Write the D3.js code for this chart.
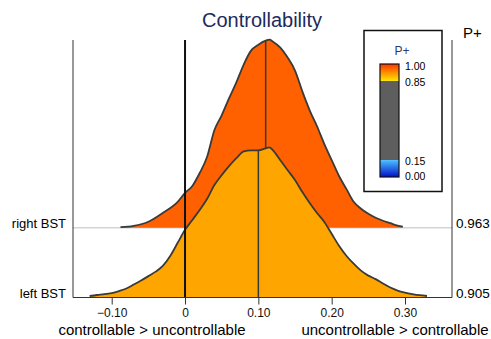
<!DOCTYPE html>
<html>
<head>
<meta charset="utf-8">
<script src="https://cdn.jsdelivr.net/npm/d3@7"></script>
<style>
  html, body { margin: 0; padding: 0; background: #fff; }
  svg { display: block; font-family: "Liberation Sans", Arial, sans-serif; }
</style>
</head>
<body>
<div id="chart"></div>
<script>
// ===== data =====
const rows = ['left BST', 'right BST'];
const pPlus = [0.905, 0.963];
const medians = [0.10, 0.11];

const gridLeft = [-0.13, -0.12, -0.11, -0.10, -0.09, -0.08, -0.07, -0.06, -0.05, -0.04, -0.03, -0.02, -0.01,
  0.00, 0.01, 0.02, 0.03, 0.04, 0.05, 0.06, 0.07, 0.08, 0.09, 0.10, 0.11, 0.115, 0.12, 0.13, 0.14, 0.15,
  0.16, 0.17, 0.18, 0.19, 0.20, 0.21, 0.22, 0.23, 0.24, 0.25, 0.26, 0.27, 0.28, 0.29, 0.30, 0.31, 0.32, 0.33];
const densLeft = [1.5, 2.5, 3.3, 4.5, 6.5, 9, 13, 17, 21.5, 26, 32, 42, 55,
  68, 78, 88, 99, 113, 123, 132, 140, 147, 148, 148, 150, 151, 148, 138, 128, 118,
  106, 95, 85, 76, 64, 52, 42, 34, 27, 22, 18.5, 14, 10, 7, 5, 3.5, 2.3, 1.5];

const gridRight = [-0.088, -0.07, -0.05, -0.03, -0.01, 0.00, 0.01, 0.02, 0.03, 0.04, 0.05, 0.06, 0.07, 0.08,
  0.09, 0.10, 0.11, 0.115, 0.12, 0.13, 0.14, 0.15, 0.16, 0.17, 0.18, 0.19, 0.20, 0.21, 0.22, 0.23,
  0.24, 0.25, 0.26, 0.27, 0.28, 0.29, 0.297];
const densRight = [0.5, 1.8, 6, 15, 26, 35, 42, 55, 71, 98, 113, 130, 146, 164,
  178, 184, 188, 189, 187, 181, 171, 158, 137, 118, 102, 84, 68, 52, 39, 26,
  19, 14, 10, 7, 4.5, 2, 1];

const xTicks = [-0.10, 0, 0.10, 0.20, 0.30];
const xTickLabels = ['\u22120.10', '0', '0.10', '0.20', '0.30'];
const legendTicks = [1.00, 0.85, 0.15, 0.00];
const legendTickLabels = ['1.00', '0.85', '0.15', '0.00'];

// ===== setup =====
const width = 491, height = 339;
const svg = d3.select('#chart').append('svg')
  .attr('width', width).attr('height', height);

const x = d3.scaleLinear().domain([-0.1, 0.3]).range([111.7, 405]);
const rowY = d3.scaleLinear().domain([0, 1]).range([297.5, 227.7]);
const h = d3.scaleLinear().domain([0, 190]).range([0, 189]);
const pColor = d3.scaleLinear().domain([0.85, 1]).range(['#ffe600', '#ff3400']);

const plotLeft = 73, plotRight = 452, plotTop = 40;

// title
svg.append('text')
  .attr('x', 262).attr('y', 27)
  .attr('text-anchor', 'middle')
  .attr('font-size', 20)
  .attr('fill', '#1c2a5c')
  .text('Controllability');

svg.append('text')
  .attr('x', 463).attr('y', 38)
  .attr('font-size', 15)
  .attr('fill', '#000')
  .text('P+');

// gray baseline for upper row
svg.append('line')
  .attr('x1', plotLeft).attr('x2', plotRight)
  .attr('y1', rowY(1)).attr('y2', rowY(1))
  .attr('stroke', '#d4d4d4').attr('stroke-width', 1.5);

// ===== ridges (upper row first, lower row on top) =====
const series = [
  { grid: gridRight, dens: densRight, row: 1 },
  { grid: gridLeft, dens: densLeft, row: 0 }
];

series.forEach(s => {
  const base = rowY(s.row);
  const pts = s.grid.map((g, i) => ({ v: g, d: s.dens[i] }));

  const area = d3.area()
    .x(d => x(d.v))
    .y0(base)
    .y1(d => base - h(d.d))
    .curve(d3.curveMonotoneX);

  const line = d3.line()
    .x(d => x(d.v))
    .y(d => base - h(d.d))
    .curve(d3.curveMonotoneX);

  svg.append('path')
    .datum(pts)
    .attr('d', area)
    .attr('fill', pColor(pPlus[s.row]));

  svg.append('path')
    .datum(pts)
    .attr('d', line)
    .attr('fill', 'none')
    .attr('stroke', '#3a3a3a')
    .attr('stroke-width', 1.8);

  // median line up to the curve
  const m = medians[s.row];
  const i = d3.bisectLeft(s.grid, m);
  const t = (m - s.grid[i - 1]) / (s.grid[i] - s.grid[i - 1]);
  const dm = s.dens[i - 1] + t * (s.dens[i] - s.dens[i - 1]);
  svg.append('line')
    .attr('x1', x(m)).attr('x2', x(m))
    .attr('y1', base).attr('y2', base - h(dm))
    .attr('stroke', '#3a3a3a').attr('stroke-width', 1.5);
});

// zero line
svg.append('line')
  .attr('x1', x(0)).attr('x2', x(0))
  .attr('y1', plotTop).attr('y2', rowY(0))
  .attr('stroke', '#111').attr('stroke-width', 2);

// ===== axes =====
[plotLeft, plotRight].forEach(px => {
  svg.append('line')
    .attr('x1', px).attr('x2', px)
    .attr('y1', plotTop).attr('y2', rowY(0))
    .attr('stroke', '#333').attr('stroke-width', 1);
});

const xAxis = svg.append('g')
  .attr('transform', `translate(0,${rowY(0)})`)
  .call(d3.axisBottom(x).tickValues(xTicks)
    .tickFormat((d, i) => xTickLabels[i]).tickSize(7).tickPadding(4));
xAxis.select('.domain').remove();
xAxis.append('line')
  .attr('x1', plotLeft).attr('x2', plotRight)
  .attr('stroke', '#333').attr('stroke-width', 1);
xAxis.selectAll('.tick line').attr('stroke', '#333');
xAxis.selectAll('.tick text')
  .attr('font-size', 12)
  .attr('font-family', '"Liberation Sans", Arial, sans-serif')
  .attr('fill', '#111');

svg.append('text')
  .attr('x', 152).attr('y', 334.5)
  .attr('text-anchor', 'middle')
  .attr('font-size', 15)
  .text('controllable > uncontrollable');

svg.append('text')
  .attr('x', 395).attr('y', 334.5)
  .attr('text-anchor', 'middle')
  .attr('font-size', 15)
  .text('uncontrollable > controllable');

// row labels and P+ values
rows.forEach((r, i) => {
  svg.append('text')
    .attr('x', 66).attr('y', rowY(i) + 0.5)
    .attr('text-anchor', 'end')
    .attr('font-size', 13)
    .text(r);
  svg.append('text')
    .attr('x', 456).attr('y', rowY(i) + 0.5)
    .attr('font-size', 13.5)
    .text(pPlus[i].toFixed(3));
});

// ===== legend =====
const lg = svg.append('g');
lg.append('rect')
  .attr('x', 364).attr('y', 30.5)
  .attr('width', 78).attr('height', 161)
  .attr('fill', '#fff')
  .attr('stroke', '#111').attr('stroke-width', 1.5);

lg.append('text')
  .attr('x', 402).attr('y', 55)
  .attr('text-anchor', 'middle')
  .attr('font-size', 12)
  .attr('fill', '#2a3a6e')
  .text('P+');

const ly = d3.scaleLinear().domain([0, 1]).range([177, 64]);
const defs = svg.append('defs');
const gTop = defs.append('linearGradient').attr('id', 'gTop')
  .attr('x1', 0).attr('y1', 0).attr('x2', 0).attr('y2', 1);
gTop.append('stop').attr('offset', 0).attr('stop-color', pColor(1));
gTop.append('stop').attr('offset', 1).attr('stop-color', pColor(0.85));
const gBot = defs.append('linearGradient').attr('id', 'gBot')
  .attr('x1', 0).attr('y1', 0).attr('x2', 0).attr('y2', 1);
gBot.append('stop').attr('offset', 0).attr('stop-color', '#4cc0ff');
gBot.append('stop').attr('offset', 1).attr('stop-color', '#0010c8');

const barX = 380, barW = 19;
lg.append('rect')
  .attr('x', barX).attr('y', ly(0.85))
  .attr('width', barW).attr('height', ly(0.15) - ly(0.85))
  .attr('fill', '#5e5e5e');
lg.append('rect')
  .attr('x', barX).attr('y', ly(1))
  .attr('width', barW).attr('height', ly(0.85) - ly(1))
  .attr('fill', 'url(#gTop)');
lg.append('rect')
  .attr('x', barX).attr('y', ly(0.15))
  .attr('width', barW).attr('height', ly(0) - ly(0.15))
  .attr('fill', 'url(#gBot)');
lg.append('rect')
  .attr('x', barX).attr('y', ly(1))
  .attr('width', barW).attr('height', ly(0) - ly(1))
  .attr('fill', 'none')
  .attr('stroke', '#111').attr('stroke-width', 1.2);

legendTicks.forEach((v, i) => {
  lg.append('text')
    .attr('x', 405).attr('y', ly(v) + (v === 1 ? 2 : v === 0 ? -1 : 1.5))
    .attr('dy', '0.35em')
    .attr('font-size', 10.5)
    .text(legendTickLabels[i]);
});
</script>
</body>
</html>
